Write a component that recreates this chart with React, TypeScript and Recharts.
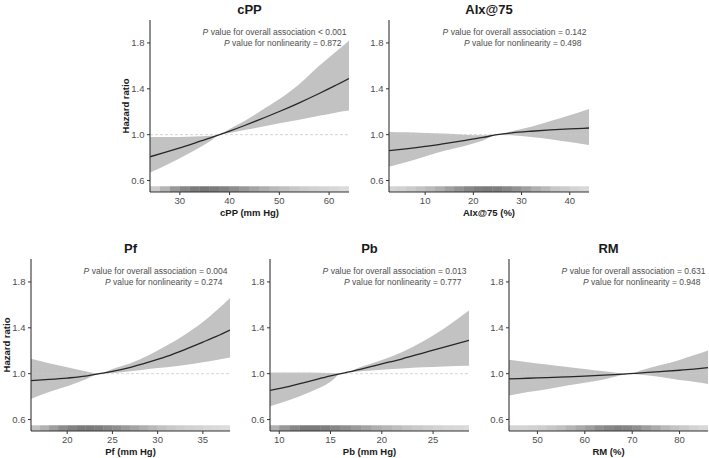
import {
  Area,
  ComposedChart,
  Line,
  ReferenceArea,
  ReferenceLine,
  XAxis,
  YAxis,
} from "recharts";

// hazard ratio curves: x, estimate, lower and upper band
const CPP_X = [24, 27, 30, 33, 36, 38, 40, 43, 46, 50, 54, 58, 61, 64];
const CPP_HR = [0.807, 0.845, 0.885, 0.926, 0.97, 1.0, 1.031, 1.08, 1.131, 1.202, 1.278, 1.359, 1.423, 1.49];
const CPP_LO = [0.67, 0.73, 0.795, 0.865, 0.94, 1.0, 1.015, 1.04, 1.065, 1.1, 1.13, 1.165, 1.19, 1.21];
const CPP_HI = [0.98, 0.98, 0.98, 0.983, 0.99, 1.0, 1.05, 1.12, 1.2, 1.31, 1.44, 1.6, 1.71, 1.82];

const AIX_X = [2.5, 6, 10, 14, 18, 22, 25, 28, 32, 36, 40, 44];
const AIX_HR = [0.86, 0.876, 0.897, 0.922, 0.948, 0.976, 1.0, 1.016, 1.03, 1.041, 1.05, 1.058];
const AIX_LO = [0.72, 0.76, 0.81, 0.86, 0.9, 0.95, 1.0, 0.995, 0.98, 0.96, 0.935, 0.91];
const AIX_HI = [1.024, 1.02, 1.015, 1.01, 1.0, 0.995, 1.0, 1.03, 1.07, 1.12, 1.17, 1.224];

const PF_X = [16, 18, 20, 22, 23.6, 25, 27, 29, 31, 33, 35, 36.5, 38];
const PF_HR = [0.94, 0.95, 0.962, 0.978, 1.0, 1.02, 1.055, 1.1, 1.15, 1.21, 1.275, 1.325, 1.38];
const PF_LO = [0.78, 0.84, 0.89, 0.95, 1.0, 1.005, 1.02, 1.04, 1.055, 1.075, 1.1, 1.12, 1.14];
const PF_HI = [1.13, 1.09, 1.055, 1.02, 1.0, 1.04, 1.09, 1.16, 1.245, 1.34, 1.45, 1.55, 1.66];

const PB_X = [9.1, 11, 13, 15, 16, 18, 20, 22, 24, 26, 28.5];
const PB_HR = [0.855, 0.89, 0.935, 0.98, 1.0, 1.04, 1.085, 1.13, 1.18, 1.23, 1.29];
const PB_LO = [0.715, 0.77, 0.84, 0.93, 1.0, 1.02, 1.035, 1.045, 1.055, 1.063, 1.07];
const PB_HI = [1.01, 1.01, 1.01, 1.005, 1.0, 1.06, 1.12, 1.19, 1.28, 1.39, 1.55];

const RM_X = [44, 48, 52, 56, 60, 64, 67, 69.5, 72, 76, 80, 83, 86];
const RM_HR = [0.954, 0.96, 0.966, 0.972, 0.979, 0.987, 0.994, 1.0, 1.007, 1.018, 1.03, 1.04, 1.052];
const RM_LO = [0.81, 0.84, 0.865, 0.895, 0.92, 0.95, 0.98, 1.0, 0.99, 0.97, 0.945, 0.93, 0.91];
const RM_HI = [1.122, 1.1, 1.08, 1.06, 1.04, 1.02, 1.006, 1.0, 1.03, 1.075, 1.12, 1.16, 1.203];

// rug: bin starts and shading (observation density)
const CPP_RUG_X = [24, 26, 28, 30, 32, 34, 36, 38, 40, 42, 44, 46, 48, 50, 52, 54, 56, 58, 60, 62];
const CPP_RUG_D = [0.15, 0.28, 0.45, 0.55, 0.62, 0.65, 0.62, 0.58, 0.52, 0.45, 0.38, 0.32, 0.26, 0.22, 0.18, 0.14, 0.12, 0.1, 0.08, 0.06];
const AIX_RUG_X = [2, 4, 6, 8, 10, 12, 14, 16, 18, 20, 22, 24, 26, 28, 30, 32, 34, 36, 38, 40, 42];
const AIX_RUG_D = [0.1, 0.12, 0.15, 0.2, 0.25, 0.32, 0.4, 0.48, 0.55, 0.6, 0.62, 0.6, 0.55, 0.48, 0.4, 0.32, 0.25, 0.18, 0.14, 0.1, 0.08];
const PF_RUG_X = [16, 17, 18, 19, 20, 21, 22, 23, 24, 25, 26, 27, 28, 29, 30, 31, 32, 33, 34, 35, 36, 37];
const PF_RUG_D = [0.2, 0.3, 0.42, 0.52, 0.58, 0.62, 0.62, 0.6, 0.55, 0.5, 0.44, 0.38, 0.32, 0.26, 0.21, 0.17, 0.14, 0.12, 0.1, 0.08, 0.07, 0.06];
const PB_RUG_X = [9, 10, 11, 12, 13, 14, 15, 16, 17, 18, 19, 20, 21, 22, 23, 24, 25, 26, 27, 28];
const PB_RUG_D = [0.3, 0.45, 0.55, 0.62, 0.62, 0.6, 0.55, 0.5, 0.44, 0.38, 0.32, 0.27, 0.23, 0.19, 0.16, 0.13, 0.11, 0.09, 0.08, 0.06];
const RM_RUG_X = [44, 46, 48, 50, 52, 54, 56, 58, 60, 62, 64, 66, 68, 70, 72, 74, 76, 78, 80, 82, 84];
const RM_RUG_D = [0.1, 0.1, 0.12, 0.14, 0.18, 0.22, 0.28, 0.35, 0.42, 0.5, 0.55, 0.58, 0.56, 0.5, 0.42, 0.34, 0.26, 0.2, 0.15, 0.11, 0.08];

const Y_TICKS = [0.6, 1.0, 1.4, 1.8];

const PANELS = [
  {
    title: "cPP", xLabel: "cPP (mm Hg)", box: [150, 20, 199, 172], xDomain: [24, 64],
    xTicks: [30, 40, 50, 60], x: CPP_X, hr: CPP_HR, lo: CPP_LO, hi: CPP_HI,
    rugX: CPP_RUG_X, rugD: CPP_RUG_D, rugW: 2, pAll: "< 0.001", pNon: "= 0.872", yLabel: true,
  },
  {
    title: "AIx@75", xLabel: "AIx@75 (%)", box: [389, 20, 200, 172], xDomain: [2.5, 44],
    xTicks: [10, 20, 30, 40], x: AIX_X, hr: AIX_HR, lo: AIX_LO, hi: AIX_HI,
    rugX: AIX_RUG_X, rugD: AIX_RUG_D, rugW: 2, pAll: "= 0.142", pNon: "= 0.498", yLabel: false,
  },
  {
    title: "Pf", xLabel: "Pf (mm Hg)", box: [31, 259, 199, 172], xDomain: [16, 38],
    xTicks: [20, 25, 30, 35], x: PF_X, hr: PF_HR, lo: PF_LO, hi: PF_HI,
    rugX: PF_RUG_X, rugD: PF_RUG_D, rugW: 1, pAll: "= 0.004", pNon: "= 0.274", yLabel: true,
  },
  {
    title: "Pb", xLabel: "Pb (mm Hg)", box: [270, 259, 199, 172], xDomain: [9.1, 28.5],
    xTicks: [10, 15, 20, 25], x: PB_X, hr: PB_HR, lo: PB_LO, hi: PB_HI,
    rugX: PB_RUG_X, rugD: PB_RUG_D, rugW: 1, pAll: "= 0.013", pNon: "= 0.777", yLabel: false,
  },
  {
    title: "RM", xLabel: "RM (%)", box: [509, 259, 199, 172], xDomain: [44, 86],
    xTicks: [50, 60, 70, 80], x: RM_X, hr: RM_HR, lo: RM_LO, hi: RM_HI,
    rugX: RM_RUG_X, rugD: RM_RUG_D, rugW: 2, pAll: "= 0.631", pNon: "= 0.948", yLabel: false,
  },
];

const FONT = "'Liberation Sans', Arial, sans-serif";
const TICK = { fill: "#4d4d4d", fontSize: 9.5, fontFamily: FONT };

function Panel({ p }: { p: any }) {
  const [pl, pt, pw, ph] = p.box;
  const data = p.x.map((x: number, i: number) => ({ x, hr: p.hr[i], band: [p.lo[i], p.hi[i]] }));
  return (
    <div style={{ position: "absolute", left: pl - 40, top: pt - 5 }}>
      <ComposedChart
        width={pw + 42}
        height={ph + 35}
        data={data}
        margin={{ top: 5, right: 2, left: 10, bottom: 0 }}
      >
        {/* light base of the rug, then density shading on top */}
        <ReferenceArea
          x1={p.xDomain[0]}
          x2={p.xDomain[1]}
          y1={0.5}
          y2={0.55}
          ifOverflow="hidden"
          fill="#e6e6e6"
          fillOpacity={1}
          stroke="none"
        />
        {p.rugX.map((x0: number, i: number) => (
          <ReferenceArea
            key={x0}
            x1={x0}
            x2={x0 + p.rugW}
            y1={0.5}
            y2={0.55}
            ifOverflow="hidden"
            fill="#000"
            fillOpacity={p.rugD[i] * 0.75}
            stroke="none"
          />
        ))}
        <ReferenceLine y={1} stroke="#cccccc" strokeWidth={0.8} strokeDasharray="3 2" />
        <Area
          type="monotone"
          dataKey="band"
          fill="#c2c2c2"
          fillOpacity={1}
          stroke="none"
          isAnimationActive={false}
        />
        <Line
          type="monotone"
          dataKey="hr"
          stroke="#262626"
          strokeWidth={1.3}
          dot={false}
          isAnimationActive={false}
        />
        <XAxis
          type="number"
          dataKey="x"
          domain={p.xDomain}
          ticks={p.xTicks}
          allowDataOverflow
          height={30}
          tick={TICK}
          tickSize={3}
          tickMargin={2}
          axisLine={{ stroke: "#333", strokeWidth: 1.1 }}
          tickLine={{ stroke: "#333" }}
        />
        <YAxis
          type="number"
          domain={[0.5, 2]}
          ticks={Y_TICKS}
          allowDataOverflow
          width={30}
          tick={TICK}
          tickSize={3}
          tickMargin={2.5}
          tickFormatter={(v: number) => v.toFixed(1)}
          axisLine={{ stroke: "#333", strokeWidth: 1.1 }}
          tickLine={{ stroke: "#333" }}
        />
      </ComposedChart>
    </div>
  );
}

function Labels({ p }: { p: any }) {
  const [pl, pt, pw, ph] = p.box;
  const cx = pl + pw / 2;
  const pr = pl + pw;
  return (
    <g fontFamily={FONT}>
      <text x={cx} y={pt - 11} textAnchor="middle" dominantBaseline="central" fontSize={13} fontWeight="bold" fill="#1a1a1a">
        {p.title}
      </text>
      <text x={cx} y={pt + ph + 20} textAnchor="middle" dominantBaseline="central" fontSize={9.5} fontWeight="bold" fill="#1a1a1a">
        {p.xLabel}
      </text>
      {p.yLabel && (
        <text
          x={pl - 25}
          y={pt + ph / 2}
          textAnchor="middle"
          dominantBaseline="central"
          fontSize={9.5}
          fontWeight="bold"
          fill="#1a1a1a"
          transform={`rotate(-90 ${pl - 25} ${pt + ph / 2})`}
        >
          Hazard ratio
        </text>
      )}
      <text x={pr - 2.5} y={pt + 12} textAnchor="end" dominantBaseline="central" fontSize={8.5} fill="#4d4d4d">
        <tspan fontStyle="italic">P</tspan> value for overall association {p.pAll}
      </text>
      <text x={pr - 7.5} y={pt + 23} textAnchor="end" dominantBaseline="central" fontSize={8.5} fill="#4d4d4d">
        <tspan fontStyle="italic">P</tspan> value for nonlinearity {p.pNon}
      </text>
    </g>
  );
}

export default function App() {
  return (
    <div style={{ position: "relative", width: 709, height: 458, background: "#fff", overflow: "hidden" }}>
      <style>{`body{margin:0}`}</style>
      {PANELS.map((p) => (
        <Panel key={p.title} p={p} />
      ))}
      <svg
        width={709}
        height={458}
        style={{ position: "absolute", left: 0, top: 0, pointerEvents: "none" }}
      >
        {PANELS.map((p) => (
          <Labels key={p.title} p={p} />
        ))}
      </svg>
    </div>
  );
}
